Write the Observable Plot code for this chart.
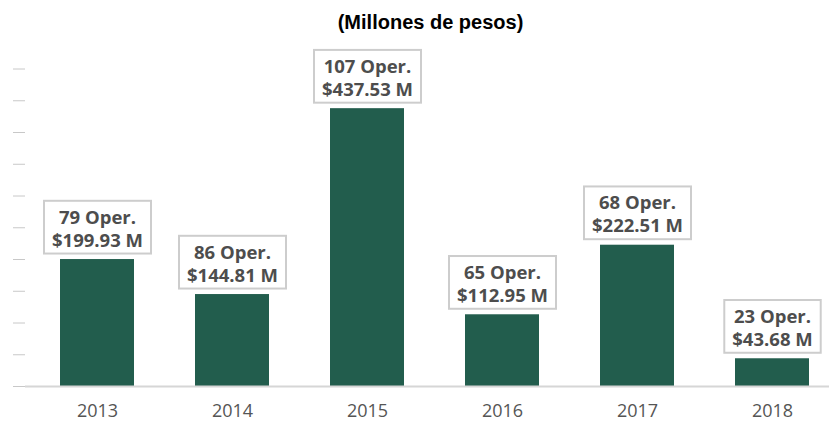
<!DOCTYPE html>
<html>
<head>
<meta charset="utf-8">
<script src="https://cdn.jsdelivr.net/npm/d3@7"></script>
<script src="https://cdn.jsdelivr.net/npm/@observablehq/plot@0.6"></script>
<style>
  html, body { margin: 0; padding: 0; background: #fff; }
  #title { height: 38px; padding-top: 4px; box-sizing: border-box; line-height: 36px; padding-left: 32px; width: 829px;
           text-align: center; font-family: "Liberation Sans", Arial, sans-serif; font-weight: bold; font-size: 20px; color: #000; }
</style>
</head>
<body>
<div id="title">(Millones de pesos)</div>
<div id="chart"></div>
<script>
const years = ["2013", "2014", "2015", "2016", "2017", "2018"];
const amounts = [199.93, 144.81, 437.53, 112.95, 222.51, 43.68];
const operations = [79, 86, 107, 65, 68, 23];
const yTicks = [0, 50, 100, 150, 200, 250, 300, 350, 400, 450, 500];

const data = years.map((y, i) => ({
  year: y,
  amount: amounts[i],
  ops: operations[i],
  label: `${operations[i]} Oper.\n$${amounts[i].toFixed(2)} M`
}));

const chart = Plot.plot({
  width: 829,
  height: 383,
  marginLeft: 25,
  marginRight: 0,
  marginTop: 30.5,
  marginBottom: 35,
  style: { background: "#fff", overflow: "visible" },
  x: { domain: years, paddingInner: 0.455, paddingOuter: 0.1875, align: 0.627, label: null },
  y: { domain: [0, 500], label: null },
  marks: [
    Plot.axisY({ ticks: yTicks, tickSize: 12, tickFormat: () => "", stroke: "#c8c8c8", strokeOpacity: 1 }),
    Plot.axisX({ tickSize: 0, tickPadding: 18, fontSize: 18, fontFamily: "Open Sans", fill: "#555", label: null }),
    Plot.barY(data, { x: "year", y: "amount", fill: "#225d4d" }),
    Plot.ruleY([0], { stroke: "#d6d6d6", strokeWidth: 2 }),
    Plot.text(data, {
      x: "year", y: "amount", text: "label",
      lineAnchor: "bottom", lineHeight: 1.23, dy: -13,
      fontSize: 18.5, fontWeight: 700, fontFamily: "Open Sans", fill: "#4d4d4d"
    })
  ]
});

document.getElementById("chart").appendChild(chart);

// draw framed white boxes behind the value labels
const groups = chart.querySelectorAll('g[aria-label="text"]');
groups.forEach(g => {
  g.querySelectorAll(":scope > text").forEach(t => {
    const b = t.getBBox();
    const r = document.createElementNS("http://www.w3.org/2000/svg", "rect");
    const padX = 8, padTop = 3, padBottom = 2;
    r.setAttribute("x", b.x - padX);
    r.setAttribute("y", b.y - padTop);
    r.setAttribute("width", b.width + 2 * padX);
    r.setAttribute("height", b.height + padTop + padBottom);
    r.setAttribute("fill", "#fff");
    r.setAttribute("stroke", "#cdcdcd");
    r.setAttribute("stroke-width", 2);
    const tr = t.getAttribute("transform");
    if (tr) r.setAttribute("transform", tr);
    t.parentNode.insertBefore(r, t);
  });
});
</script>
</body>
</html>
